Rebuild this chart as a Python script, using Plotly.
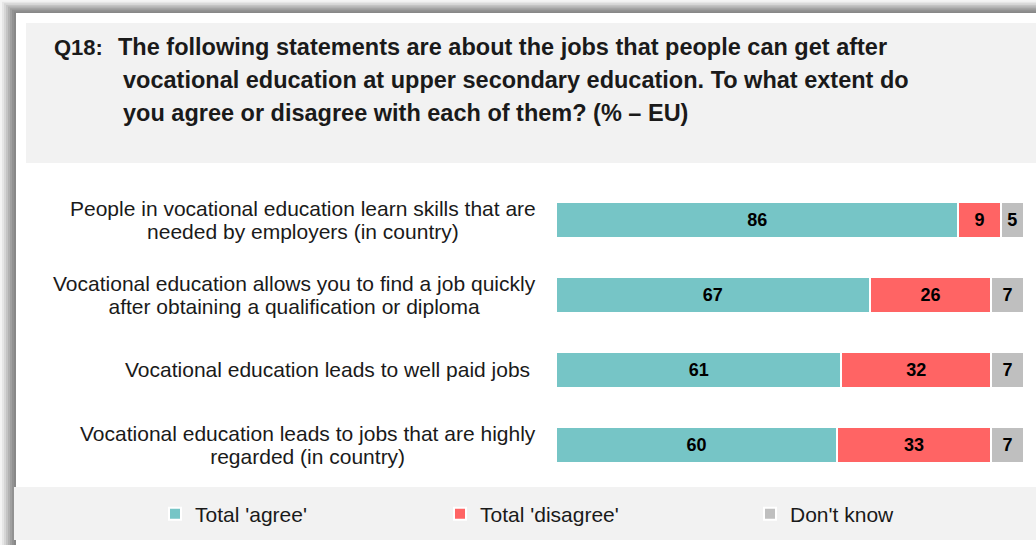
import plotly.graph_objects as go

W, H = 1036, 545

categories = [
    "People in vocational education learn skills that are<br>needed by employers (in country)",
    "Vocational education allows you to find a job quickly<br>after obtaining a qualification or diploma",
    "Vocational education leads to well paid jobs ",
    "Vocational education leads to jobs that are highly<br>regarded (in country)",
]
agree = [86, 67, 61, 60]
disagree = [9, 26, 32, 33]
dont_know = [5, 7, 7, 7]
series_names = ["Total 'agree'", "Total 'disagree'", "Don't know"]
colors = ["#76C5C6", "#FF6464", "#BFBFBF"]

title_lines = [
    "The following statements are about the jobs that people can get after",
    "vocational education at upper secondary education. To what extent do",
    "you agree or disagree with each of them? (% \u2013 EU)",
]

FONT = "Liberation Sans, Arial"


def px(x):
    return x / W


def py(y):
    return 1 - y / H


fig = go.Figure()
ids = list(range(len(categories)))
legend_ids = ["legend", "legend2", "legend3"]
for name, vals, col, lg in zip(series_names, [agree, disagree, dont_know], colors, legend_ids):
    fig.add_trace(go.Bar(
        y=ids, x=vals, name=name, orientation="h",
        marker=dict(color=col, line=dict(color="white", width=2)),
        width=0.48,
        text=[str(v) for v in vals], textposition="inside",
        insidetextanchor="middle",
        textfont=dict(family=FONT, size=18, color="black", weight="bold"),
        hoverinfo="skip", legend=lg,
    ))

shapes = []
# shadow gradient on left and top
shades = ["#f4f4f4", "#e6e6e6", "#d6d6d6", "#c4c4c4", "#b2b2b2", "#a0a0a0", "#929292", "#888888"]
n = len(shades)
for i, c in enumerate(shades):
    x0 = i * 16 / n
    y0 = i * 13 / n
    shapes.append(dict(type="rect", xref="paper", yref="paper",
                       x0=px(x0), x1=1.0, y0=0, y1=py(y0),
                       fillcolor=c, line=dict(width=0), layer="below"))
# white frame
shapes.append(dict(type="rect", xref="paper", yref="paper",
                   x0=px(16), x1=1.0, y0=0, y1=py(13),
                   fillcolor="white", line=dict(width=0), layer="below"))
# title box
shapes.append(dict(type="rect", xref="paper", yref="paper",
                   x0=px(26), x1=1.0, y0=py(163), y1=py(23),
                   fillcolor="#F2F2F2", line=dict(width=0), layer="below"))
# legend box
shapes.append(dict(type="rect", xref="paper", yref="paper",
                   x0=px(14), x1=1.0, y0=py(540), y1=py(487),
                   fillcolor="#F2F2F2", line=dict(width=0), layer="below"))

annotations = []
tfont = dict(family=FONT, size=23.5, color="#1a1a1a", weight="bold")
annotations.append(dict(text="Q18:", xref="paper", yref="paper", x=px(52), y=py(47),
                        xanchor="left", yanchor="middle", showarrow=False,
                        font=dict(family=FONT, size=22, color="#1a1a1a", weight="bold")))
for i, line in enumerate(title_lines):
    annotations.append(dict(text=line, xref="paper", yref="paper",
                            x=px(116 if i == 0 else 121), y=py(47 + 33 * i),
                            xanchor="left", yanchor="middle", showarrow=False, font=tfont))

# category labels: centred lines, tighter line spacing (base size 17 -> ~22px lines)
for i, cat in enumerate(categories):
    txt = "<br>".join('<span style="font-size:21px">%s</span>' % ln for ln in cat.split("<br>"))
    annotations.append(dict(text=txt, xref="paper", yref="y", x=px(538), y=i,
                            xanchor="right", yanchor="middle", align="center",
                            showarrow=False,
                            font=dict(family=FONT, size=17.5, color="#1a1a1a")))

legend_common = dict(orientation="h", y=py(514), xanchor="left", yanchor="middle",
                     bgcolor="rgba(0,0,0,0)",
                     font=dict(family=FONT, size=21, color="#1a1a1a"), itemwidth=30)

fig.update_layout(
    width=W, height=H, autosize=False,
    margin=dict(l=0, r=0, t=0, b=0),
    paper_bgcolor="white", plot_bgcolor="rgba(0,0,0,0)",
    barmode="stack",
    showlegend=True,
    legend=dict(x=px(155), **legend_common),
    legend2=dict(x=px(440), **legend_common),
    legend3=dict(x=px(750), **legend_common),
    xaxis=dict(domain=[px(556), px(1024)], range=[0, 100], visible=False, fixedrange=True),
    yaxis=dict(domain=[py(482), py(182)], range=[3.5, -0.5], visible=False, fixedrange=True),
    uniformtext=dict(minsize=18, mode="show"),
    shapes=shapes, annotations=annotations,
)

fig.write_html("out.html", config={"displayModeBar": False, "responsive": False},
               default_width="1036px", default_height="545px")

with open("out.html", "r", encoding="utf-8") as f:
    html = f.read()
html = html.replace("<body>", '<body style="margin:0;padding:0;overflow:hidden">', 1)
with open("out.html", "w", encoding="utf-8") as f:
    f.write(html)
